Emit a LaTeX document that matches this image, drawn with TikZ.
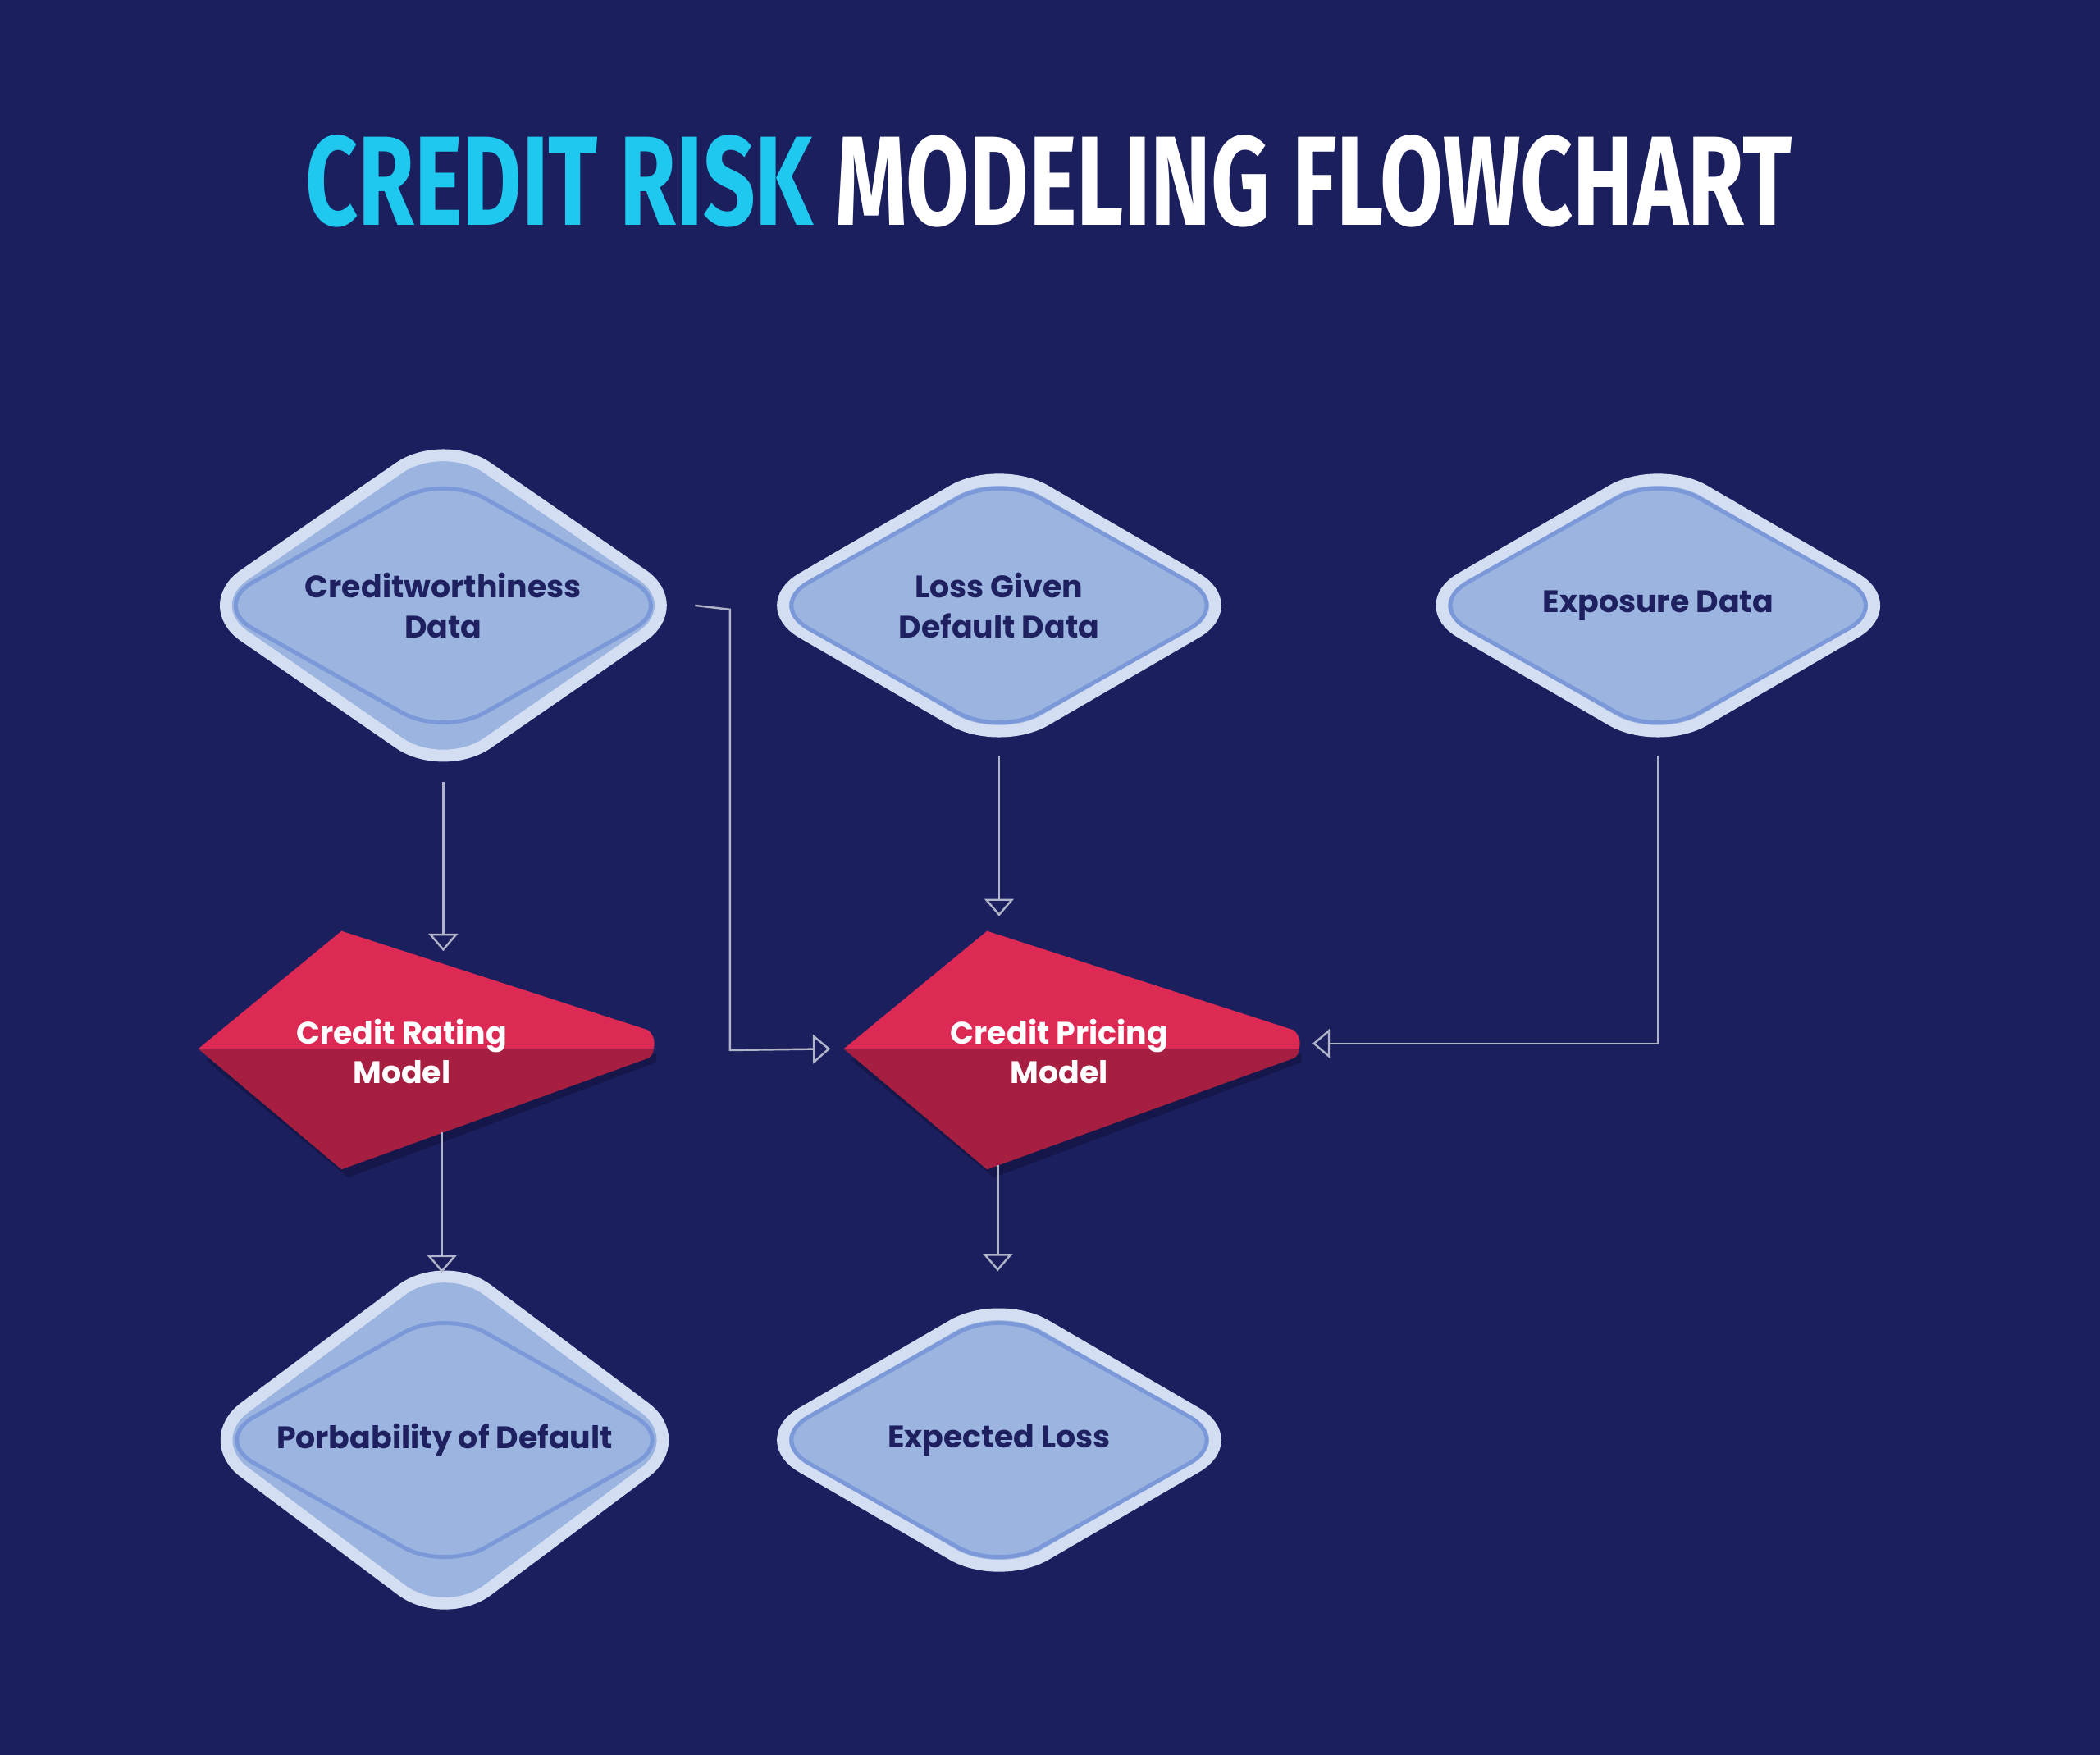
\documentclass[tikz,border=0pt]{standalone}
\usepackage{fontspec}
\setmainfont{Poppins}
\newfontfamily\titlefont[FakeStretch=0.72]{Fira Sans}
\usetikzlibrary{shapes.geometric,arrows.meta}
\definecolor{bg}{HTML}{1C1F5E}
\definecolor{cyanT}{HTML}{1EC8EE}
\definecolor{dfill}{HTML}{9BB5E0}
\definecolor{dout}{HTML}{D3DEF3}
\definecolor{din}{HTML}{7B98D8}
\definecolor{navy}{HTML}{1E2060}
\definecolor{redA}{HTML}{DC2A55}
\definecolor{redB}{HTML}{A61F40}
\definecolor{shad}{HTML}{15174A}
\definecolor{conn}{HTML}{B0B4C8}
\begin{document}
\begin{tikzpicture}[x=0.1mm,y=-0.1mm,
  dia/.style={diamond,minimum width=36.7mm,minimum height=21.5mm,inner sep=0pt,
     fill=dfill,draw=dout,line width=0.9mm,rounded corners=4mm,
     font=\fontsize{6.6pt}{8.4pt}\selectfont\bfseries,text=navy,align=center},
  diain/.style={diamond,minimum width=34.7mm,minimum height=19.6mm,inner sep=0pt,
     draw=din,line width=0.3mm,rounded corners=3.5mm},
  rtxt/.style={font=\fontsize{6.6pt}{8.4pt}\selectfont\bfseries,text=white,align=center},
  con/.style={draw=conn,line width=0.15mm,-{Triangle[open,width=2.2mm,length=1.3mm]}}]
\fill[bg] (0,0) rectangle (1568,1310);
\useasboundingbox (0,0) rectangle (1568,1310);
\node (title) at (783,135) {\titlefont\bfseries\fontsize{27pt}{30pt}\selectfont\textcolor{cyanT}{CREDIT RISK} \textcolor{white}{MODELING FLOWCHART}};
% diamonds
\foreach \n/\x/\y in {cwi/331/452,lgi/746/452,exi/1238/452,pdi/332/1075,eli/746/1075}{
  \node[diain] (\n) at (\x,\y) {};}
\node[dia,fill opacity=1] (cw) at (331,452) {Creditworthiness\\Data};
\node[diain] at (331,452) {};
\node[dia] (lg) at (746,452) {Loss Given\\Default Data};
\node[diain] at (746,452) {};
\node[dia] (ex) at (1238,452) {Exposure Data};
\node[diain] at (1238,452) {};
\node[dia] (pd) at (332,1075) {Porbability of Default};
\node[diain] at (332,1075) {};
\node[dia] (el) at (746,1075) {Expected Loss};
\node[diain] at (746,1075) {};
% red shapes
\foreach \ox/\nm in {0/cr,482/cp}{
  \begin{scope}[shift={(\ox,0)}]
  \fill[shad] (153,791) -- (260,879) -- (490,793) -- (490,787) -- cycle;
  \fill[redA] (148,783) -- (255,695) -- (484,769) to[bend left=30] (488,783) -- cycle;
  \fill[redB] (148,783) -- (488,783) to[bend left=30] (484,790) -- (255,873) -- cycle;
  \end{scope}}
\node[rtxt] (cr) at (300,785) {Credit Rating\\Model};
\node[rtxt] (cp) at (791,785) {Credit Pricing\\Model};
\coordinate (crT) at (331,710);
\coordinate (crB) at (330,845);
\coordinate (crL) at (620,783);
\coordinate (cpT) at (746,684);
\coordinate (cpB) at (745,870);
\coordinate (cpR) at (980,779);
% connectors
\draw[con] (cw.south) -- (crT);
\draw[con] (crB) -- (330,950);
\draw[con] (lg.south) -- (cpT);
\draw[con] (cpB) -- (745,949);
\draw[con] (cw.east) -- (545,455) -- (545,784) -- (crL);
\draw[con] (ex.south) -- (1238,779) -- (cpR);
\end{tikzpicture}
\end{document}
